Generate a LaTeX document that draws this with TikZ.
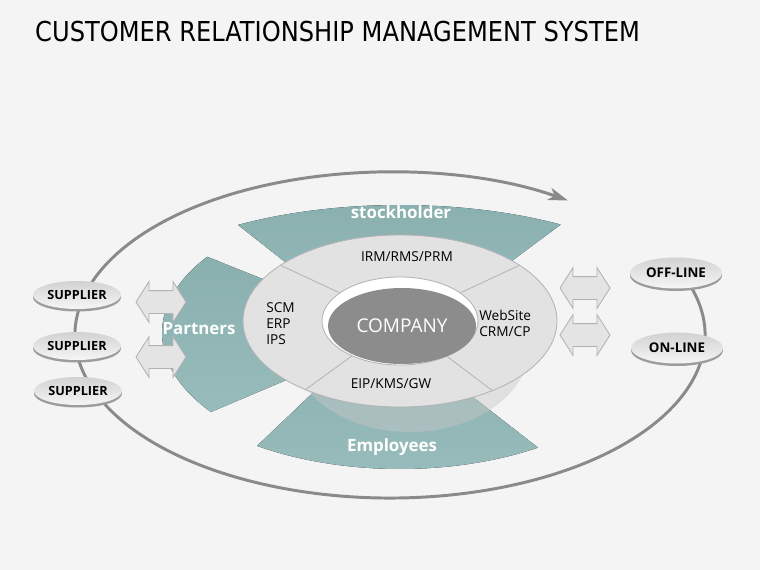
\documentclass[tikz,border=0pt]{standalone}
\usepackage{fontspec}
\setmainfont{Open Sans}
\newfontfamily\titlefont{DejaVu Sans}
\usetikzlibrary{arrows.meta,shapes.geometric,shapes.arrows,shadows}

\definecolor{bgcol}{HTML}{F4F4F4}
\definecolor{bandtop}{HTML}{8AAFAF}
\definecolor{bandbot}{HTML}{98BCBC}
\definecolor{overlaygray}{HTML}{C8C8C8}
\definecolor{ringfill}{HTML}{E2E2E2}
\definecolor{ringline}{HTML}{B4B4B4}
\definecolor{compgray}{HTML}{8C8C8C}
\definecolor{arrowfill}{HTML}{E4E4E4}
\definecolor{arrowline}{HTML}{B2B2B2}
\definecolor{loopgray}{HTML}{8A8A8A}
\definecolor{pilltop}{HTML}{D2D2D2}
\definecolor{pillbot}{HTML}{F6F6F6}
\definecolor{pillrim}{HTML}{9C9C9C}

\newcommand{\px}{0.025cm}

\begin{document}
\begin{tikzpicture}[x=\px, y=-\px,
  band/.style={top color=bandtop, bottom color=bandbot, draw=none},
  bandlabel/.style={text=white, font=\fontsize{12}{14}\selectfont\bfseries},
  ringlabel/.style={font=\fontsize{9.7}{11.4}\selectfont, align=left, inner sep=0pt},
  divider/.style={draw=ringline, line width=0.6pt},
  dblarrow/.style={double arrow, double arrow head extend=9*\px, double arrow tip angle=115,
    minimum height=50*\px, text height=22*\px, inner sep=0pt,
    fill=arrowfill, draw=arrowline, line width=0.6pt},
  pill/.style={ellipse, inner sep=0pt, top color=pilltop, bottom color=pillbot,
    general shadow={fill=pillrim, shadow yshift=-2.5*\px},
    minimum width=88*\px, minimum height=28*\px, font=\fontsize{9}{10}\selectfont\bfseries},
  loopline/.style={draw=loopgray, line width=2.1pt, -{Stealth[length=14pt,width=9pt,inset=4pt]}}
]
\fill[bgcol] (0,0) rectangle (760,570);
\useasboundingbox (0,0) rectangle (760,570);

\node[anchor=west, xscale=0.88, inner sep=0pt, font=\titlefont\fontsize{19.5}{22}\selectfont] (title) at (35,32)
  {CUSTOMER RELATIONSHIP MANAGEMENT SYSTEM};

% outer loop
\draw[loopline] (390,335) ++(-20:315 and 163)
  arc[start angle=-20, end angle=304.4, x radius=315, y radius=163];

% bands
\fill[band] (400,330) ++(-122.8:299 and 125)
  arc[start angle=-122.8, end angle=-57.5, x radius=299, y radius=125]
  -- (474,289) -- (322,291) -- cycle;
\fill[band] (400,333) ++(-144.1:238 and 130)
  arc[start angle=-144.1, end angle=-217.4, x radius=238, y radius=130]
  -- (310,370) -- (310,298) -- cycle;
\fill[band] (400,330) ++(57.8:259 and 139)
  arc[start angle=57.8, end angle=123.5, x radius=259, y radius=139]
  -- (340,367) -- (460,387) -- cycle;
\fill[overlaygray, fill opacity=0.45] (410,345) ellipse[x radius=120, y radius=87];

% ring
\node[ellipse, minimum width=314*\px, minimum height=172*\px, fill=ringfill, draw=ringline,
  line width=0.6pt] (ring) at (400,321) {};
\node[ellipse, minimum width=156*\px, minimum height=88*\px, fill=white, draw=ringline,
  line width=0.6pt] (hole) at (400,321) {};
\node[ellipse, minimum width=148*\px, minimum height=76*\px, fill=compgray, text=white,
  font=\fontsize{13.5}{15}\selectfont] (company) at (402,326) {COMPANY};
\draw[divider] (hole.155) -- (ring.155);
\draw[divider] (hole.25) -- (ring.25);
\draw[divider] (hole.216) -- (ring.216);
\draw[divider] (hole.323) -- (ring.323);

\node[ringlabel] (irm) at (407,257) {IRM/RMS/PRM};
\node[ringlabel, anchor=west] (scm) at (266,324) {SCM\\ERP\\IPS};
\node[ringlabel, anchor=west] (web) at (479,323) {WebSite\\CRM/CP};
\node[ringlabel] (eip) at (391,384) {EIP/KMS/GW};

% arrows
\node[dblarrow] (arrL1) at (161,302) {};
\node[dblarrow] (arrL2) at (161,357) {};
\node[dblarrow] (arrR1) at (585,288) {};
\node[dblarrow] (arrR2) at (585,335) {};

% pills
\node[pill] (sup1) at (77,295) {SUPPLIER};
\node[pill] (sup2) at (77,346) {SUPPLIER};
\node[pill] (sup3) at (78,391) {SUPPLIER};
\node[pill, minimum width=92*\px, minimum height=31*\px, font=\fontsize{9.5}{11}\selectfont\bfseries]
  (offline) at (676,273) {OFF-LINE};
\node[pill, minimum width=92*\px, minimum height=31*\px, font=\fontsize{9.5}{11}\selectfont\bfseries]
  (online) at (677,348) {ON-LINE};

\node[bandlabel] (stock) at (401,212) {stockholder};
\node[bandlabel] (partners) at (199,329) {Partners};
\node[bandlabel] (employees) at (392,447) {Employees};
\end{tikzpicture}
\end{document}
